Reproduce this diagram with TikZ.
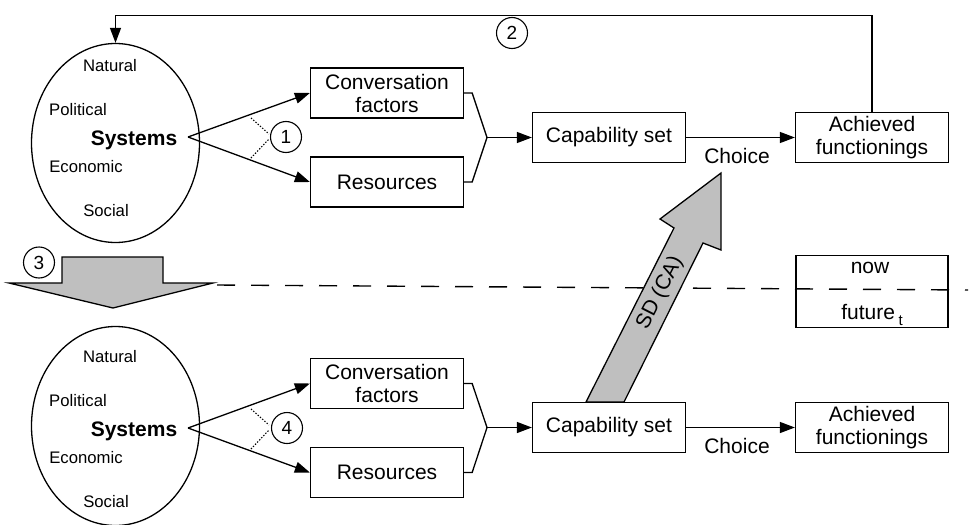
\documentclass[tikz,border=0pt]{standalone}
\usepackage{fontspec}
\setmainfont{Liberation Sans}
\usetikzlibrary{arrows.meta,shapes.geometric}
\begin{document}
\begin{tikzpicture}[x=1pt,y=-1pt,
  every node/.style={font=\fontsize{21}{23}\selectfont},
  box/.style={draw, line width=1.3pt, fill=white, minimum width=153pt, minimum height=50pt, inner sep=0pt, align=center},
  sys/.style={draw, ellipse, line width=1.3pt, minimum width=168pt, minimum height=199pt, inner sep=0pt},
  lbl/.style={font=\fontsize{16.7}{18}\selectfont, inner sep=0pt, anchor=base},
  plain/.style={inner sep=0pt, anchor=base},
  num/.style={draw, circle, line width=1.1pt, minimum size=31pt, inner sep=0pt, font=\fontsize{19}{19}\selectfont},
  flow/.style={line width=1.3pt, -{Triangle[length=15pt,width=11pt]}},
  link/.style={line width=1.3pt, line join=miter},
  marker/.style={line width=1.1pt, dash pattern=on 1.3pt off 1.7pt},
  bigarrow/.style={draw, line width=1.3pt, fill=black!25, line join=miter},
  divider/.style={line width=1.4pt, dash pattern=on 18pt off 16pt}
]
\useasboundingbox (0,0) rectangle (973,524);

% ---------- present (upper row) ----------
\node[sys] (sysA) at (115.5,143) {};
\node[lbl] (natA) at (110,71.7) {Natural};
\node[lbl] (polA) at (78,115) {Political};
\node[plain, font=\fontsize{21}{23}\selectfont\bfseries] (sysLblA) at (134,145.7) {Systems};
\node[lbl] (ecoA) at (86,172.3) {Economic};
\node[lbl] (socA) at (106,216) {Social};
\coordinate (vA) at (188,137);

\node[box] (cfA)  at (387,93)    {Conversation\\factors};
\node[box] (resA) at (387,182)   {Resources};
\node[box] (capA) at (609,137.5) {Capability set};
\node[box] (achA) at (872,137.5) {Achieved\\functionings};
\coordinate (jA) at (487,137.5);

\draw[flow] (vA) -- (cfA.west);
\draw[flow] (vA) -- (resA.west);
\draw[marker] (251,118) -- (269,134);
\draw[marker] (251,158) -- (269,139);
\node[num] (n1) at (286,137) {1};

\draw[link] (cfA.east) -- ([xshift=8pt]cfA.east) -- (jA) -- ([xshift=8pt]resA.east) -- (resA.east);
\draw[flow] (jA) -- (capA.west);
\draw[flow] (capA.east) -- (achA.west);
\node[plain] (choiceA) at (737,163) {Choice};

% feedback from achieved functionings back to the systems
\draw[flow] (achA.north) -- ++(0,-96) -| (sysA.north);
\node[num] (n2) at (512,33) {2};

% ---------- time divider ----------
\node[box, minimum width=152pt, minimum height=72pt] (timebox) at (872,291.5) {};
\node[plain] (nowLbl) at (870,273.3) {now};
\node[plain] (futLbl) at (872,319) {future\,\raisebox{-6pt}{\fontsize{15}{15}\selectfont t}};
\coordinate (dashL) at (217,285);
\coordinate (dashR) at (968,290);
\draw[divider] (dashL) -- (dashR);

% transition to the future
\draw[bigarrow] (62,257) -- (163,257) -- (163,283) -- (213,283) -- (113,308) -- (9,283) -- (62,283) -- cycle;
\node[num] (n3) at (39,262.5) {3};

% sustainable development arrow
\draw[bigarrow] (586,402) -- (674,228) -- (660,219) -- (721,173) -- (721,250) -- (703,243) -- (624,402) -- cycle;
\node[rotate=63, inner sep=0pt] (sdLbl) at (660,293) {SD (CA)};

% ---------- future (lower row) ----------
\node[sys] (sysB) at (115.5,426) {};
\node[lbl] (natB) at (110,362.7) {Natural};
\node[lbl] (polB) at (78,406) {Political};
\node[plain, font=\fontsize{21}{23}\selectfont\bfseries] (sysLblB) at (134,436.7) {Systems};
\node[lbl] (ecoB) at (86,463.3) {Economic};
\node[lbl] (socB) at (106,507) {Social};
\coordinate (vB) at (188,428);

\node[box] (cfB)  at (387,383.5) {Conversation\\factors};
\node[box] (resB) at (387,472.5) {Resources};
\node[box] (capB) at (609,427.5) {Capability set};
\node[box] (achB) at (872,427.5) {Achieved\\functionings};
\coordinate (jB) at (487,427.5);

\draw[flow] (vB) -- (cfB.west);
\draw[flow] (vB) -- (resB.west);
\draw[marker] (251,409) -- (269,425);
\draw[marker] (251,449) -- (269,430);
\node[num] (n4) at (287,428) {4};

\draw[link] (cfB.east) -- ([xshift=8pt]cfB.east) -- (jB) -- ([xshift=8pt]resB.east) -- (resB.east);
\draw[flow] (jB) -- (capB.west);
\draw[flow] (capB.east) -- (achB.west);
\node[plain] (choiceB) at (737,453) {Choice};
\end{tikzpicture}
\end{document}
